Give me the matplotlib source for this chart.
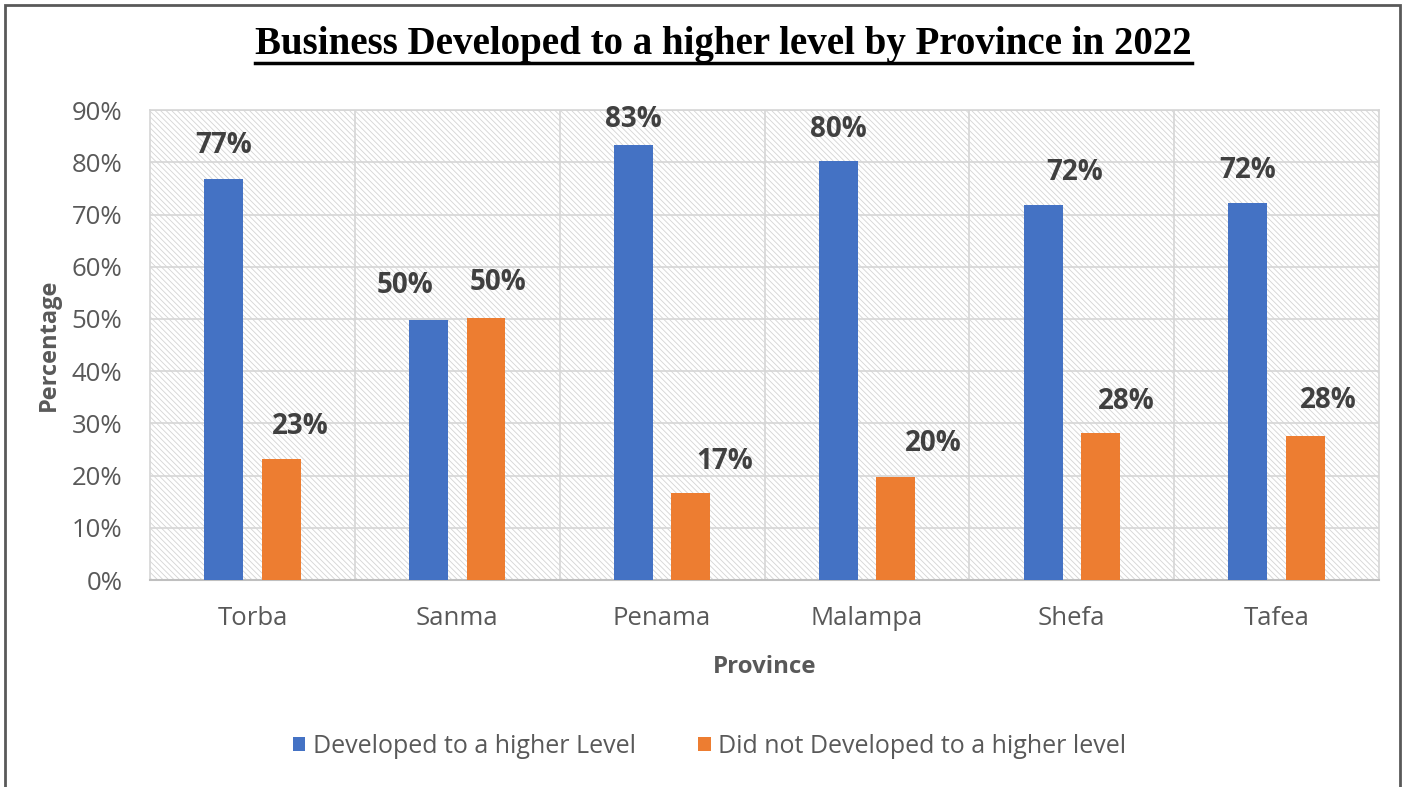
import matplotlib.pyplot as plt
import numpy as np
from matplotlib.patches import Rectangle
from matplotlib.lines import Line2D

plt.rcParams['font.family'] = ['Open Sans', 'DejaVu Sans']
plt.rcParams['hatch.color'] = '#d4d4d4'
plt.rcParams['hatch.linewidth'] = 0.6

provinces = ['Torba', 'Sanma', 'Penama', 'Malampa', 'Shefa', 'Tafea']
developed = [76.8, 49.8, 83.3, 80.2, 71.8, 72.2]
not_developed = [23.2, 50.2, 16.7, 19.8, 28.2, 27.6]
yticks = [0, 10, 20, 30, 40, 50, 60, 70, 80, 90]

# label nudges in pixels (x shift, y gap above bar)
dev_dx = [0, -24, 0, 0, 32, 0]
dev_dy = [34, 35, 26, 32, 33, 33]
not_dx = [19, 12, 34, 38, 26, 23]
not_dy = [32, 35, 31, 33, 31, 35]

blue = '#4472C4'
orange = '#ED7D31'
grey_txt = '#595959'
lbl_txt = '#404040'

fig = plt.figure(figsize=(14.05, 7.87), dpi=100)
ax = fig.add_axes([0.1068, 0.263, 0.8747, 0.597])

# hatched plot area
ax.add_patch(Rectangle((0, 0), 1, 1, transform=ax.transAxes, facecolor='white',
                       hatch='\\\\\\\\\\\\', edgecolor='#d4d4d4', linewidth=0, zorder=0))

x = np.arange(len(provinces))
w = 0.19
off = 0.14
b1 = ax.bar(x - off, developed, w, color=blue, zorder=3, label='Developed to a higher Level')
b2 = ax.bar(x + off, not_developed, w, color=orange, zorder=3, label='Did not Developed to a higher level')

for i in range(len(provinces)):
    ax.annotate('%d%%' % round(developed[i]), (x[i] - off, developed[i]),
                xytext=(dev_dx[i], dev_dy[i]), textcoords='offset pixels',
                ha='center', va='center', fontsize=20, fontweight='bold', color=lbl_txt)
    ax.annotate('%d%%' % round(not_developed[i]), (x[i] + off, not_developed[i]),
                xytext=(not_dx[i], not_dy[i]), textcoords='offset pixels',
                ha='center', va='center', fontsize=20, fontweight='bold', color=lbl_txt)

ax.set_xlim(-0.5, len(provinces) - 0.5)
ax.set_ylim(0, 90)
ax.set_yticks(yticks)
ax.set_yticklabels(['%d%%' % t for t in yticks])
ax.set_xticks(x)
ax.set_xticklabels(provinces)
ax.tick_params(axis='both', length=0, labelsize=18.5, colors=grey_txt)
ax.tick_params(axis='y', pad=20)
ax.tick_params(axis='x', pad=19)

for t in yticks[1:]:
    ax.axhline(t, color='#d6d6d6', lw=1.2, zorder=1)
for b in np.arange(0.5, len(provinces) - 0.5, 1):
    ax.axvline(b, color='#d6d6d6', lw=1.2, zorder=1)

for s in ax.spines.values():
    s.set_color('#d6d6d6')
    s.set_linewidth(1.2)
ax.spines['bottom'].set_color('#bfbfbf')
ax.spines['bottom'].set_linewidth(1.5)

ax.set_xlabel('Province', fontsize=17.3, fontweight='bold', color=grey_txt, labelpad=17)
ax.set_ylabel('Percentage', fontsize=17, fontweight='bold', color=grey_txt, labelpad=8)

leg = fig.legend(handles=[b1, b2], loc='center', bbox_to_anchor=(0.505, 0.052), ncol=2,
                 frameon=False, fontsize=18, handlelength=0.5, handleheight=0.5,
                 handletextpad=0.3, columnspacing=2.5)
for t in leg.get_texts():
    t.set_color(grey_txt)

title = fig.text(0.515, 0.944, 'Business Developed to a higher level by Province in 2022',
                 ha='center', va='center', fontsize=28, fontweight='bold',
                 family='Liberation Serif', color='black')
fig.canvas.draw()
bb = title.get_window_extent().transformed(fig.transFigure.inverted())
fig.add_artist(Line2D([bb.x0, bb.x1], [0.920, 0.920], color='black', lw=2.5,
                      transform=fig.transFigure))

# outer frame
fig.add_artist(Rectangle((0.0036, -0.01), 0.9928, 1.0036, transform=fig.transFigure,
                         fill=False, edgecolor='#595959', lw=2))

fig.savefig('out.png', dpi=100)
